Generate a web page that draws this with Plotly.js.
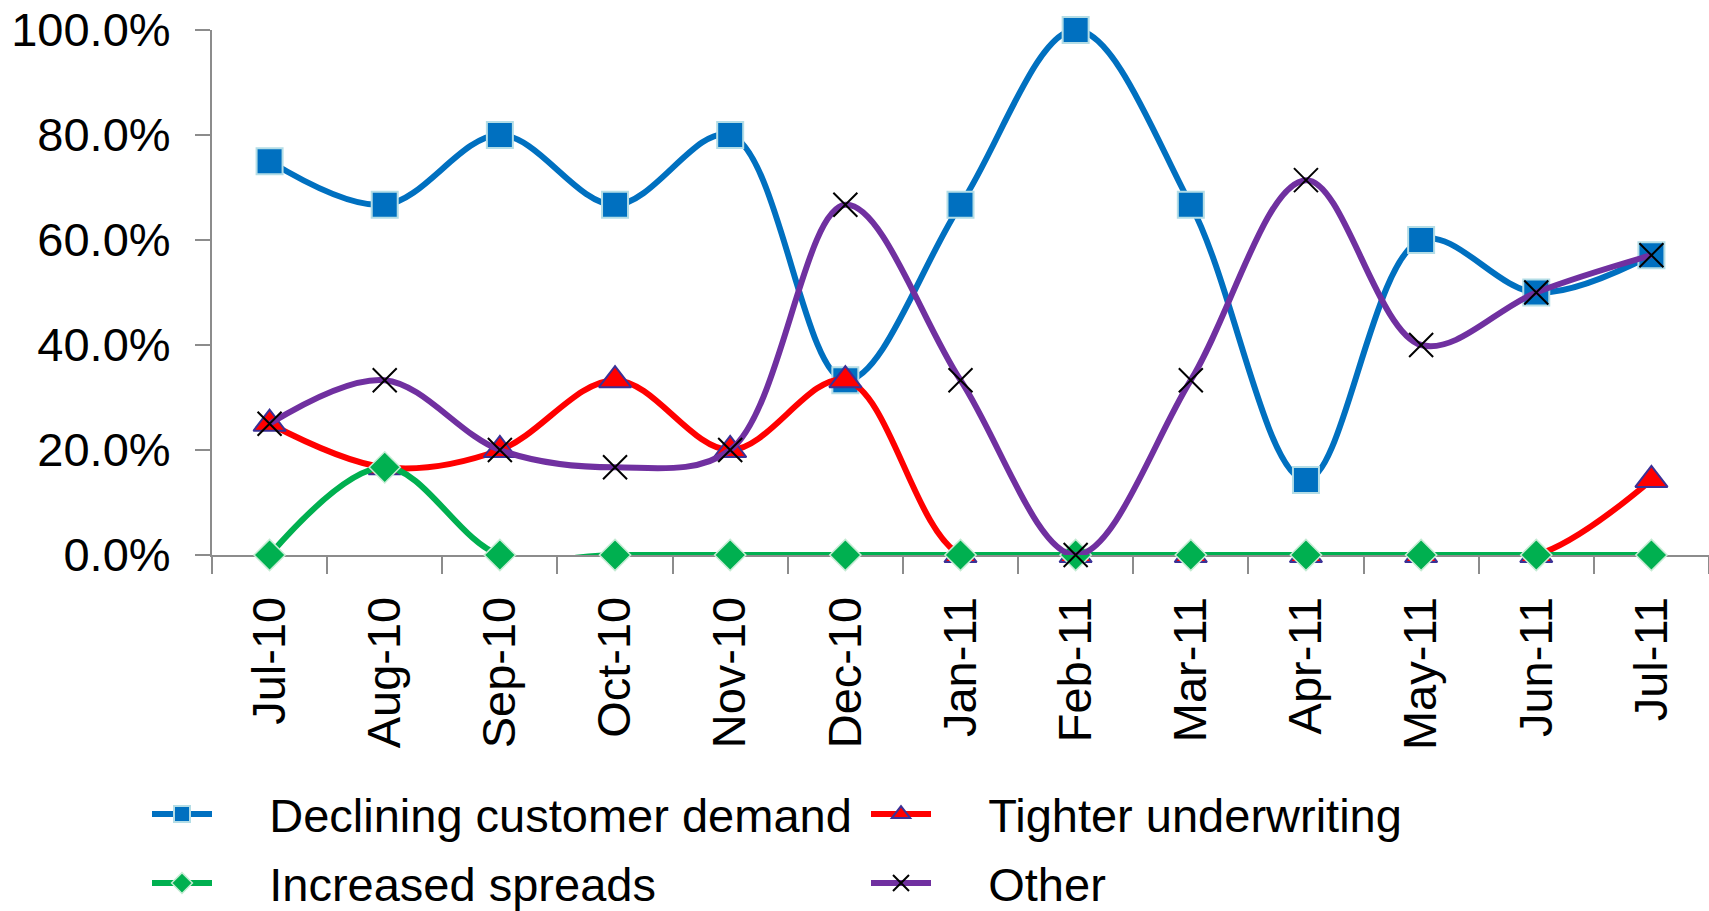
<!DOCTYPE html>
<html>
<head>
<meta charset="utf-8">
<script src="https://cdn.plot.ly/plotly-3.0.1.min.js"></script>
<style>
  html, body { margin: 0; padding: 0; background: #ffffff; }
  #chart { width: 1709px; height: 911px; }
</style>
</head>
<body>
<div id="chart"></div>
<script>
// ---- data ----
const months = ["Jul-10", "Aug-10", "Sep-10", "Oct-10", "Nov-10", "Dec-10",
                "Jan-11", "Feb-11", "Mar-11", "Apr-11", "May-11", "Jun-11", "Jul-11"];
const decliningDemand = [0.75, 0.667, 0.80, 0.667, 0.80, 0.333, 0.667, 1.00, 0.667, 0.143, 0.60, 0.50, 0.571];
const tighterUnderwriting = [0.25, 0.167, 0.20, 0.333, 0.20, 0.333, 0, 0, 0, 0, 0, 0, 0.143];
const increasedSpreads = [0, 0.167, 0, 0, 0, 0, 0, 0, 0, 0, 0, 0, 0];
const other = [0.25, 0.333, 0.20, 0.167, 0.20, 0.667, 0.333, 0, 0.333, 0.714, 0.40, 0.50, 0.571];
const seriesNames = ["Declining customer demand", "Tighter underwriting", "Increased spreads", "Other"];

const FONT = "Liberation Sans, Arial, Helvetica, sans-serif";
const AXIS_GRAY = "#8c8c8c";
const GAP = "\u00a0\u00a0\u00a0\u00a0"; // spacing between legend symbol and text

const traces = [
  {
    name: GAP + seriesNames[0], legend: "legend",
    x: months, y: decliningDemand,
    mode: "lines+markers", type: "scatter", cliponaxis: false,
    line: { color: "#0070C0", width: 6, shape: "spline", smoothing: 1 },
    marker: { symbol: "square", size: 26, color: "#0070C0", line: { color: "#b4dde6", width: 2 } }
  },
  {
    name: GAP + seriesNames[1], legend: "legend",
    x: months, y: tighterUnderwriting,
    mode: "lines+markers", type: "scatter", cliponaxis: false,
    line: { color: "#FF0000", width: 6, shape: "spline", smoothing: 1 },
    marker: { symbol: "triangle-up", size: 28, color: "#FF0000", line: { color: "#3b3196", width: 2 } }
  },
  {
    name: GAP + seriesNames[2], legend: "legend2",
    x: months, y: increasedSpreads,
    mode: "lines+markers", type: "scatter", cliponaxis: false,
    line: { color: "#00B050", width: 6, shape: "spline", smoothing: 1 },
    marker: { symbol: "diamond", size: 24, color: "#00B050", line: { color: "#c6ecd4", width: 1.5 } }
  },
  {
    name: GAP + seriesNames[3], legend: "legend2",
    x: months, y: other,
    mode: "lines+markers", type: "scatter", cliponaxis: false,
    line: { color: "#7030A0", width: 6, shape: "spline", smoothing: 1 },
    marker: { symbol: "x-thin", size: 24, color: "#000000", line: { color: "#000000", width: 2 } }
  }
];

function legendAt(yTop) {
  return {
    orientation: "h",
    xref: "container", yref: "container",
    x: 147 / 1709, xanchor: "left",
    y: 1 - yTop / 911, yanchor: "top",
    entrywidth: 644, entrywidthmode: "pixels",
    itemwidth: 60,
    font: { family: FONT, size: 47, color: "#000000" },
    bgcolor: "rgba(0,0,0,0)",
    traceorder: "normal"
  };
}

const layout = {
  width: 1709, height: 911, autosize: false,
  paper_bgcolor: "#ffffff", plot_bgcolor: "#ffffff",
  margin: { l: 212, r: 0, t: 30, b: 356, pad: 0 },
  font: { family: FONT, size: 47, color: "#000000" },
  showlegend: true,
  xaxis: {
    type: "category",
    range: [-0.5, 12.5],
    showgrid: false, zeroline: false,
    showline: true, linecolor: AXIS_GRAY, linewidth: 2,
    layer: "below traces",
    ticks: "outside", tickson: "boundaries", ticklen: 17, tickwidth: 2, tickcolor: AXIS_GRAY,
    tickangle: -90,
    ticklabelstandoff: 21,
    tickfont: { family: FONT, size: 47, color: "#000000" },
    fixedrange: true
  },
  yaxis: {
    range: [0, 1],
    dtick: 0.2, tick0: 0,
    tickformat: ".1%",
    showgrid: false, zeroline: false,
    showline: true, linecolor: AXIS_GRAY, linewidth: 2,
    layer: "below traces",
    ticks: "outside", ticklen: 15, tickwidth: 2, tickcolor: AXIS_GRAY,
    ticklabelstandoff: 15,
    tickfont: { family: FONT, size: 47, color: "#000000" },
    fixedrange: true
  },
  legend: legendAt(777),
  legend2: legendAt(846)
};

Plotly.newPlot("chart", traces, layout, { displayModeBar: false, staticPlot: true });
</script>
</body>
</html>
